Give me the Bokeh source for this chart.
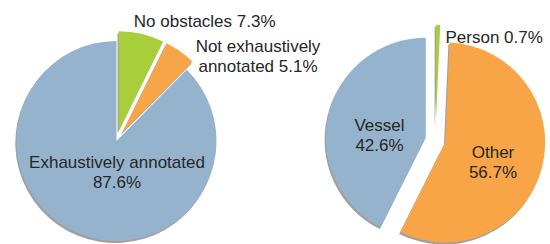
import numpy as np
from bokeh.plotting import figure
from bokeh.models import Range1d, ColumnDataSource
from bokeh.core.properties import value
from bokeh.embed import file_html
from bokeh.resources import INLINE

# ---- data ----
left_categories = ["No obstacles", "Not exhaustively annotated", "Exhaustively annotated"]
left_values = [7.3, 5.1, 87.6]
right_categories = ["Person", "Other", "Vessel"]
right_values = [0.7, 56.7, 42.6]

# ---- style / layout ----
W, H = 550, 244
GREEN, ORANGE, BLUE = "#A8CE3A", "#F8A547", "#95B3CD"
left_colors = [GREEN, ORANGE, BLUE]
right_colors = [GREEN, ORANGE, BLUE]
left_explode = [10, 10, 0]
right_explode = [15, 10, 10]
left_center = (116, 103.5)
right_center = (435, 104.5)
RADIUS = 100
FONT = "Liberation Sans"
TEXT_COLOR = "#262626"
FS = "17px"

p = figure(width=W, height=H, x_range=Range1d(0, W), y_range=Range1d(0, H),
           output_backend="svg", toolbar_location=None, min_border=0)
p.axis.visible = False
p.grid.visible = False
p.outline_line_color = None
p.background_fill_color = "white"
p.border_fill_color = "white"


def pie_source(vals, colors, explode, center):
    vals = np.asarray(vals, dtype=float)
    frac = vals / vals.sum()
    cum = np.concatenate([[0], np.cumsum(frac)])
    top = np.pi / 2
    end = top - cum[:-1] * 2 * np.pi      # clockwise from 12 o'clock
    start = top - cum[1:] * 2 * np.pi
    mid = (start + end) / 2
    ex = np.asarray(explode, dtype=float)
    xs = center[0] + ex * np.cos(mid)
    ys = center[1] + ex * np.sin(mid)
    return ColumnDataSource(dict(x=xs, y=ys, sx=xs - 1.2, sy=ys - 2.0,
                                 start=start, end=end, color=colors))


for vals, cols, ex, c in [(left_values, left_colors, left_explode, left_center),
                          (right_values, right_colors, right_explode, right_center)]:
    src = pie_source(vals, cols, ex, c)
    p.wedge(x="sx", y="sy", radius=RADIUS, start_angle="start", end_angle="end",
            direction="anticlock", fill_color="#808080", fill_alpha=0.75,
            line_color=None, source=src)
    p.wedge(x="x", y="y", radius=RADIUS, start_angle="start", end_angle="end",
            direction="anticlock", fill_color="color", line_color=None, source=src)


def pct(v):
    return f"{v}%"

# label lines built from the data, positions are layout
texts = [
    (f"{left_categories[0]} {pct(left_values[0])}", 133.3, 223.5, "left"),
    ("Not exhaustively", 257.5, 198, "center"),
    (f"annotated {pct(left_values[1])}", 257.5, 178, "center"),
    (left_categories[2], 116.5, 82, "center"),
    (pct(left_values[2]), 116.5, 62, "center"),
    (f"{right_categories[0]} {pct(right_values[0])}", 445, 207.5, "left"),
    (right_categories[2], 379, 119, "center"),
    (pct(right_values[2]), 379, 99, "center"),
    (right_categories[1], 492.5, 92.5, "center"),
    (pct(right_values[1]), 492.5, 72.5, "center"),
]
for t, x, y, align in texts:
    p.text(x=[x], y=[y], text=[t], text_font=value(FONT), text_font_size=FS,
           text_color=TEXT_COLOR, text_align=align, text_baseline="alphabetic")

open("out.html", "w").write(file_html(p, INLINE))
